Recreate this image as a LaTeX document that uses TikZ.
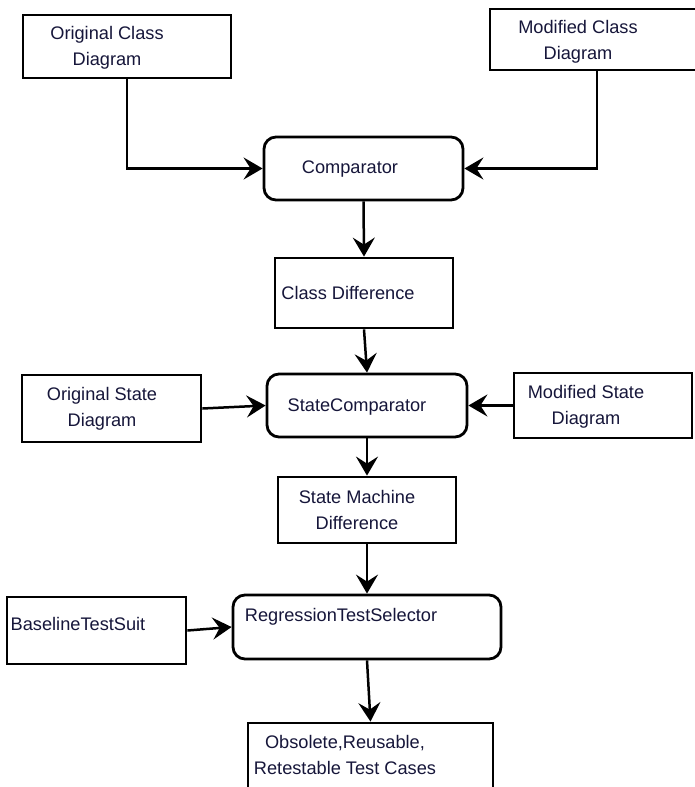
\documentclass[tikz,border=0pt]{standalone}
\usepackage{fontspec}
\setmainfont{Liberation Sans}
\usepackage{tikz}
\usetikzlibrary{arrows.meta}
\definecolor{fText}{RGB}{22,22,58}
\tikzstyle{fBox} = [rectangle, draw=black, line width=2.8pt, fill=white]
\tikzstyle{fRound} = [rectangle, rounded corners=12pt, draw=black, line width=2.8pt, fill=white]
\tikzstyle{fText} = [text=fText, align=center, inner sep=0pt, font=\fontsize{18.2}{26}\selectfont]
\tikzstyle{fArrow} = [line width=2.5pt, -{Stealth[length=19pt, width=22pt, inset=7pt]}]

\begin{document}
\begin{tikzpicture}[x=1pt, y=-1pt]
    \useasboundingbox (0,0) rectangle (694,787);
    \node (origClass) [fBox, minimum width=208, minimum height=63] at (127,46.5) {};
    \node (modClass) [fBox, minimum width=214, minimum height=61] at (597,39.5) {};
    \node (comparator) [fRound, minimum width=199, minimum height=63] at (363.5,168.5) {};
    \node (classDiff) [fBox, minimum width=178, minimum height=70] at (364,293) {};
    \node (stateComparator) [fRound, minimum width=200, minimum height=63] at (367,405.5) {};
    \node (origState) [fBox, minimum width=179, minimum height=67] at (111.5,408.5) {};
    \node (modState) [fBox, minimum width=178, minimum height=65] at (603,405.5) {};
    \node (smDiff) [fBox, minimum width=178, minimum height=66] at (367,510) {};
    \node (regSelector) [fRound, minimum width=268, minimum height=64] at (367,627) {};
    \node (baselineSuit) [fBox, minimum width=179, minimum height=67] at (96.5,630.5) {};
    \node (testCases) [fBox, minimum width=245, minimum height=77] at (370.5,761.5) {};

    \node (origClassText) [fText] at (107,48) {Original Class\\Diagram};
    \node (modClassText) [fText] at (578,42) {Modified Class\\Diagram};
    \node (comparatorText) [fText] at (350,169) {Comparator};
    \node (classDiffText) [fText] at (348,293) {Class Difference};
    \node (stateComparatorText) [fText] at (357,407) {StateComparator};
    \node (origStateText) [fText] at (102,408.5) {Original State\\Diagram};
    \node (modStateText) [fText] at (586,407) {Modified State\\Diagram};
    \node (smDiffText) [fText] at (357,510) {State Machine\\Difference};
    \node (regSelectorText) [fText] at (341,617) {RegressionTestSelector};
    \node (baselineSuitText) [fText] at (78,623.5) {BaselineTestSuit};
    \node (testCasesText) [fText] at (345,755) {Obsolete,Reusable,\\Retestable Test Cases};

    \draw [fArrow] (origClass.south) |- (comparator.west);
    \draw [fArrow] (modClass.south) |- (comparator.east);
    \draw [fArrow] (comparator.south) -- (classDiff.north);
    \draw [fArrow] (classDiff.south) -- (stateComparator.north);
    \draw [fArrow] (origState.east) -- (stateComparator.west);
    \draw [fArrow] (modState.west) -- (stateComparator.east);
    \draw [fArrow] (stateComparator.south) -- (smDiff.north);
    \draw [fArrow] (smDiff.south) -- (regSelector.north);
    \draw [fArrow] (baselineSuit.east) -- (regSelector.west);
    \draw [fArrow] (regSelector.south) -- (testCases.north);
\end{tikzpicture}
\end{document}
